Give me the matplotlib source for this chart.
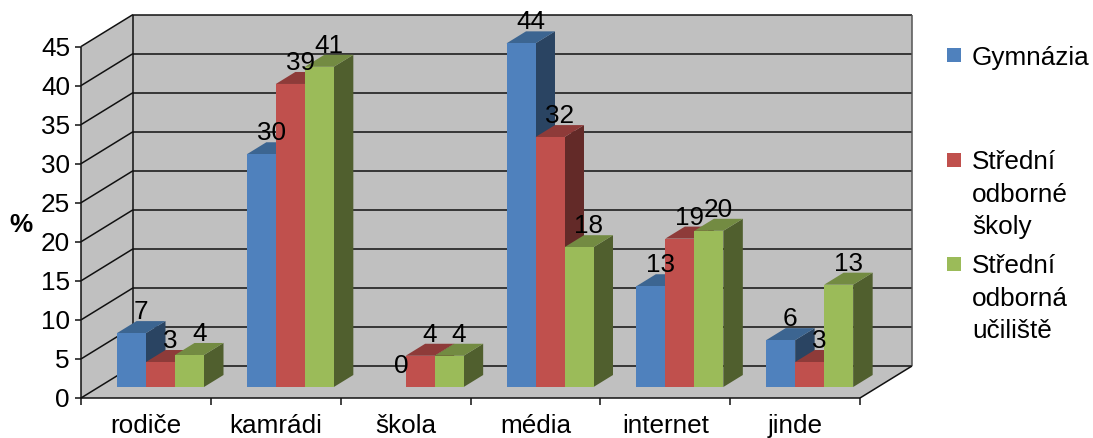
import matplotlib
matplotlib.use('Agg')
import matplotlib.pyplot as plt
from matplotlib.patches import Polygon, Rectangle

categories = ["rodiče", "kamrádi", "škola", "média", "internet", "jinde"]
gymnazia = [6.9, 29.8, 0, 44.0, 12.9, 6.0]
sos = [3.2, 38.8, 4.0, 32.0, 19.0, 3.2]
sou = [4.1, 41.0, 4.0, 17.9, 20.0, 13.1]
y_ticks = [0, 5, 10, 15, 20, 25, 30, 35, 40, 45]
legend_labels = ["Gymnázia", "Střední\nodborné\nškoly", "Střední\nodborná\nučiliště"]

# front, top, side
blue = ["#4F81BD", "#3C6591", "#2A4462"]
red = ["#C0504D", "#8E3B39", "#632A28"]
green = ["#9BBB59", "#738B42", "#505F2E"]
wall = "#C0C0C0"

plt.rcParams['font.family'] = ['Liberation Sans', 'DejaVu Sans']
FS = 18.8

fig = plt.figure(figsize=(10.93, 4.39), dpi=100)
ax = fig.add_axes([0, 0, 1, 1])
ax.set_xlim(0, 1093)
ax.set_ylim(439, 0)
ax.axis('off')

# chart box in pixels
x0, x1 = 81, 860
y0 = 399
px_per_unit = 7.81
dx, dy = 52, -32
bar_base = 388
bar_w = 29
bar_dx, bar_dy = 19.5, -12
group_off = 36
cat_w = (x1 - x0) / len(categories)
text_shift = 1.5

def poly(pts, color, z=1):
    ax.add_patch(Polygon(pts, closed=True, facecolor=color, edgecolor='none', zorder=z))

def line(xs, ys, color='#111111', lw=1.1, z=2):
    ax.plot(xs, ys, color=color, lw=lw, zorder=z, solid_capstyle='butt')

top45 = y0 - 45 * px_per_unit
# walls and floor
poly([(x0 + dx, top45 + dy), (x1 + dx, top45 + dy), (x1 + dx, y0 + dy), (x0 + dx, y0 + dy)], wall)
poly([(x0, top45), (x0 + dx, top45 + dy), (x0 + dx, y0 + dy), (x0, y0)], wall)
poly([(x0, y0), (x1, y0), (x1 + dx, y0 + dy), (x0 + dx, y0 + dy)], wall)

for t in y_ticks:
    y = y0 - t * px_per_unit
    line([x0, x0 + dx], [y, y + dy])
    line([x0 + dx, x1 + dx], [y + dy, y + dy])
    line([x0 - 6, x0], [y, y])
    ax.text(70, y + text_shift, str(t), ha='right', va='center', fontsize=FS, color='black')

line([x0, x0], [top45, y0])
line([x0 + dx, x0 + dx], [top45 + dy, y0 + dy])
line([x1 + dx, x1 + dx], [top45 + dy, y0 + dy], color='#555555')
line([x0, x1], [y0, y0])
line([x1, x1 + dx], [y0, y0 + dy])

for i in range(len(categories) + 1):
    x = x0 + i * cat_w
    line([x, x], [y0, y0 + 7])
for i, c in enumerate(categories):
    ax.text(x0 + (i + 0.5) * cat_w, 426, c, ha='center', va='center', fontsize=FS, color='black')

ax.text(21, 225, "%", ha='center', va='center', fontsize=FS, fontweight='bold', color='black')

# bars, left to right so each one covers the side of the previous
series = [(gymnazia, blue), (sos, red), (sou, green)]
for i in range(len(categories)):
    left = x0 + i * cat_w + group_off
    for j, (vals, cols) in enumerate(series):
        v = vals[i]
        xl = left + j * bar_w
        xr = xl + bar_w
        yt = bar_base - v * px_per_unit
        if v > 0:
            poly([(xr, yt), (xr + bar_dx, yt + bar_dy), (xr + bar_dx, bar_base + bar_dy), (xr, bar_base)], cols[2], 3)
            poly([(xl, yt), (xl + bar_dx, yt + bar_dy), (xr + bar_dx, yt + bar_dy), (xr, yt)], cols[1], 3)
            poly([(xl, yt), (xr, yt), (xr, bar_base), (xl, bar_base)], cols[0], 3)
        ax.text((xl + xr + bar_dx) / 2, yt + bar_dy - 10, f"{v:.0f}", ha='center', va='center',
                fontsize=FS, color='black', zorder=5)

# legend
legend_y = [56, 161, 265]
legend_line = 32.5
for lab, ly, cols in zip(legend_labels, legend_y, [blue, red, green]):
    ax.add_patch(Rectangle((947, ly - 7), 14, 14, facecolor=cols[0], edgecolor='none', zorder=3))
    for k, part in enumerate(lab.split("\n")):
        ax.text(972, ly + k * legend_line + text_shift, part, ha='left', va='center', fontsize=FS, color='black')

fig.savefig('out.png', dpi=100)
plt.close(fig)
